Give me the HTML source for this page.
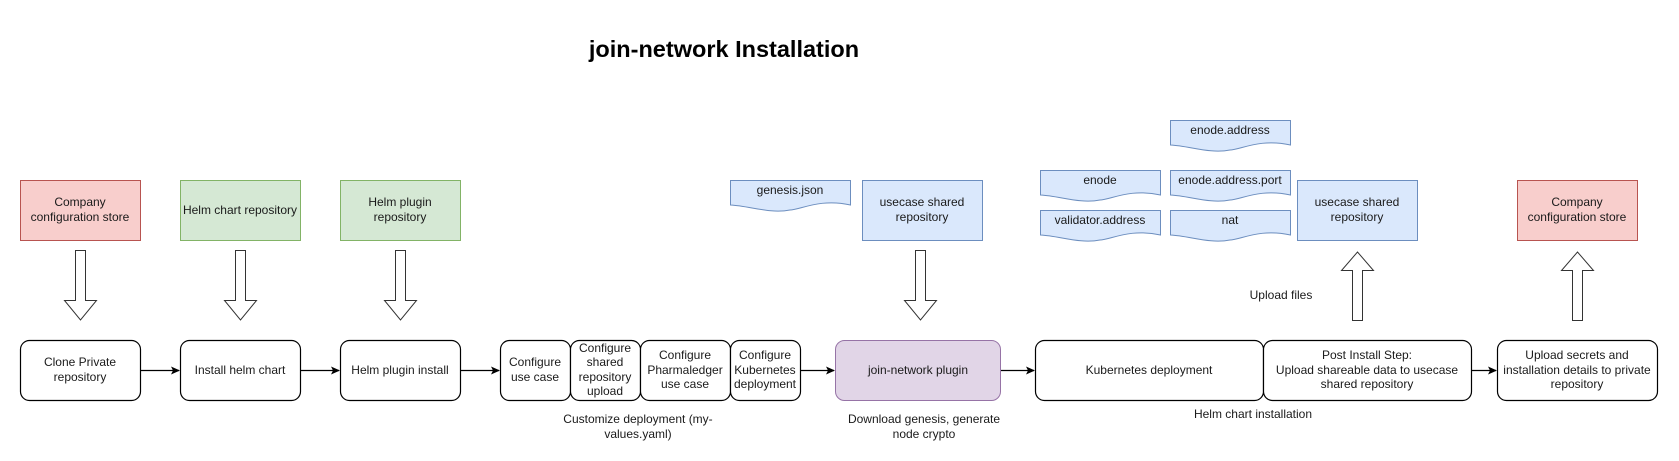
<!DOCTYPE html>
<html><head><meta charset="utf-8"><style>
html,body{margin:0;padding:0;background:#fff;}
svg{display:block;}
text{font-family:"Liberation Sans",Arial,sans-serif;font-size:12px;fill:#1a1a1a;text-anchor:middle;}
</style></head><body>
<svg width="1679" height="461" viewBox="0 0 1679 461" xmlns="http://www.w3.org/2000/svg">
<defs>
<marker id="ah" markerWidth="10" markerHeight="10" refX="8" refY="5" orient="auto" markerUnits="userSpaceOnUse">
<path d="M0,1 L9,5 L0,9 L2,5 Z" fill="#000"/>
</marker>
</defs>
<text x="724" y="57" style="font-size:23.5px;font-weight:bold;fill:#000">join-network Installation</text>

<rect x="20.5" y="180.5" width="120" height="60" fill="#f8cecc" stroke="#b85450"/>
<text x="80" y="206">Company</text><text x="80" y="221">configuration store</text>
<rect x="180.5" y="180.5" width="120" height="60" fill="#d5e8d4" stroke="#82b366"/>
<text x="240" y="214">Helm chart repository</text>
<rect x="340.5" y="180.5" width="120" height="60" fill="#d5e8d4" stroke="#82b366"/>
<text x="400" y="206">Helm plugin</text><text x="400" y="221">repository</text>

<g fill="#dae8fc" stroke="#6c8ebf">
<path d="M730.5,180.5 H850.5 V205 C820,198 800,210 790,210 C770,214 750,206 730.5,205 Z"/>
<path d="M1040.5,170.5 H1160.5 V195 C1130,188 1110,200 1100,200 C1080,204 1060,196 1040.5,195 Z"/>
<path d="M1040.5,210.5 H1160.5 V235 C1130,228 1110,240 1100,240 C1080,244 1060,236 1040.5,235 Z"/>
<path d="M1170.5,120.5 H1290.5 V145 C1260,138 1240,150 1230,150 C1210,154 1190,146 1170.5,145 Z"/>
<path d="M1170.5,170.5 H1290.5 V195 C1260,188 1240,200 1230,200 C1210,204 1190,196 1170.5,195 Z"/>
<path d="M1170.5,210.5 H1290.5 V235 C1260,228 1240,240 1230,240 C1210,244 1190,236 1170.5,235 Z"/>
<rect x="862.5" y="180.5" width="120" height="60"/>
<rect x="1297.5" y="180.5" width="120" height="60"/>
</g>
<rect x="1517.5" y="180.5" width="120" height="60" fill="#f8cecc" stroke="#b85450"/>
<text x="790" y="194">genesis.json</text>
<text x="1100" y="184">enode</text>
<text x="1100" y="224">validator.address</text>
<text x="1230" y="134">enode.address</text>
<text x="1230" y="184">enode.address.port</text>
<text x="1230" y="224">nat</text>
<text x="922" y="206">usecase shared</text><text x="922" y="221">repository</text>
<text x="1357" y="206">usecase shared</text><text x="1357" y="221">repository</text>
<text x="1577" y="206">Company</text><text x="1577" y="221">configuration store</text>

<g fill="#fff" stroke="#333" stroke-width="1">
<path d="M75.5,250.5 H85.5 V300.5 H96.5 L80.5,320 L64.5,300.5 H75.5 Z"/>
<path d="M235.5,250.5 H245.5 V300.5 H256.5 L240.5,320 L224.5,300.5 H235.5 Z"/>
<path d="M395.5,250.5 H405.5 V300.5 H416.5 L400.5,320 L384.5,300.5 H395.5 Z"/>
<path d="M915.5,250.5 H925.5 V300.5 H936.5 L920.5,320 L904.5,300.5 H915.5 Z"/>
<path d="M1352.5,320.5 H1362.5 V270.5 H1373.5 L1357.5,252 L1341.5,270.5 H1352.5 Z"/>
<path d="M1572.5,320.5 H1582.5 V270.5 H1593.5 L1577.5,252 L1561.5,270.5 H1572.5 Z"/>
</g>
<text x="1281" y="299">Upload files</text>

<g fill="#fff" stroke="#000" stroke-width="1.2">
<rect x="20.5" y="340.5" width="120" height="60" rx="9"/>
<rect x="180.5" y="340.5" width="120" height="60" rx="9"/>
<rect x="340.5" y="340.5" width="120" height="60" rx="9"/>
<rect x="500.5" y="340.5" width="70" height="60" rx="9"/>
<rect x="570.5" y="340.5" width="70" height="60" rx="9"/>
<rect x="640.5" y="340.5" width="90" height="60" rx="9"/>
<rect x="730.5" y="340.5" width="70" height="60" rx="9"/>
<rect x="1035.5" y="340.5" width="228" height="60" rx="9"/>
<rect x="1263.5" y="340.5" width="208" height="60" rx="9"/>
<rect x="1497.5" y="340.5" width="160" height="60" rx="9"/>
</g>
<rect x="835.5" y="340.5" width="165" height="60" rx="9" fill="#e1d5e7" stroke="#9673a6"/>

<g stroke="#000" stroke-width="1.2" marker-end="url(#ah)">
<line x1="141" y1="370.5" x2="179" y2="370.5"/>
<line x1="301" y1="370.5" x2="339" y2="370.5"/>
<line x1="461" y1="370.5" x2="499" y2="370.5"/>
<line x1="801" y1="370.5" x2="834" y2="370.5"/>
<line x1="1001" y1="370.5" x2="1034" y2="370.5"/>
<line x1="1472" y1="370.5" x2="1496" y2="370.5"/>
</g>

<text x="80" y="366">Clone Private</text><text x="80" y="381">repository</text>
<text x="240" y="374">Install helm chart</text>
<text x="400" y="374">Helm plugin install</text>
<text x="535" y="366">Configure</text><text x="535" y="381">use case</text>
<text x="605" y="352">Configure</text><text x="605" y="366">shared</text><text x="605" y="381">repository</text><text x="605" y="395">upload</text>
<text x="685" y="359">Configure</text><text x="685" y="374">Pharmaledger</text><text x="685" y="388">use case</text>
<text x="765" y="359">Configure</text><text x="765" y="374">Kubernetes</text><text x="765" y="388">deployment</text>
<text x="918" y="374">join-network plugin</text>
<text x="1149" y="374">Kubernetes deployment</text>
<text x="1367" y="359">Post Install Step:</text><text x="1367" y="374">Upload shareable data to usecase</text><text x="1367" y="388">shared repository</text>
<text x="1577" y="359">Upload secrets and</text><text x="1577" y="374">installation details to private</text><text x="1577" y="388">repository</text>

<text x="638" y="423">Customize deployment (my-</text><text x="638" y="438">values.yaml)</text>
<text x="924" y="423">Download genesis, generate</text><text x="924" y="438">node crypto</text>
<text x="1253" y="418">Helm chart installation</text>
</svg>
</body></html>
